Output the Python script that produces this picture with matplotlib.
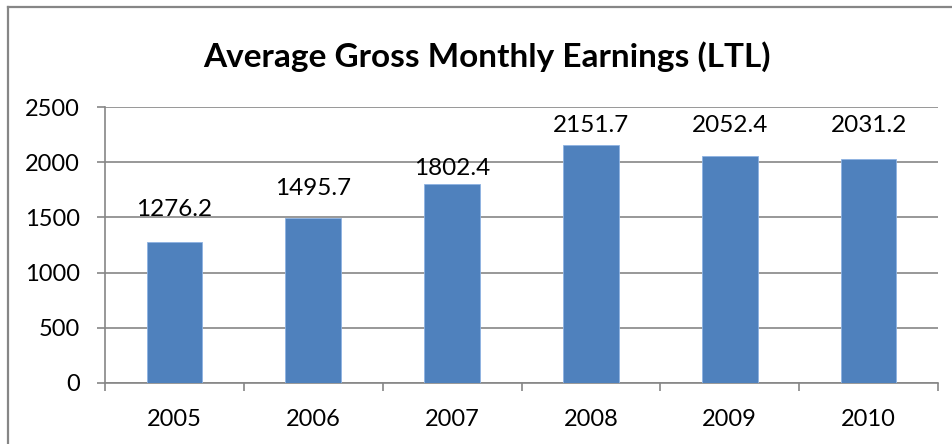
import matplotlib.pyplot as plt
from matplotlib.lines import Line2D

years = ['2005', '2006', '2007', '2008', '2009', '2010']
earnings = [1276.2, 1495.7, 1802.4, 2151.7, 2052.4, 2031.2]
# data label heights (labels were placed by hand in the original)
label_y = [1576, 1766, 1947, 2328, 2328, 2328]
yticks = [0, 500, 1000, 1500, 2000, 2500]

plt.rcParams['font.family'] = ['Lato', 'DejaVu Sans']

fig = plt.figure(figsize=(9.52, 4.44), dpi=100)
ax = fig.add_axes([0.1103, 0.1374, 0.875, 0.6216])

x = range(len(years))
ax.bar(x, earnings, width=0.4, color='#4F81BD', edgecolor='#8DB3E2', linewidth=0.6, zorder=3)

for i, v in enumerate(earnings):
    ax.text(i, label_y[i], '%.1f' % v, ha='center', va='center', fontsize=17.5, color='black')

ax.set_xlim(-0.5, 5.5)
ax.set_ylim(0, 2500)
ax.set_yticks(yticks)
ax.set_yticklabels([str(t) for t in yticks])
ax.set_xticks(list(x))
ax.set_xticklabels(years)
ax.set_xticks([i - 0.5 for i in range(len(years) + 1)], minor=True)

grey = '#868686'
ax.grid(axis='y', color=grey, linewidth=1.2, zorder=0)
ax.set_axisbelow(True)
for s in ['top', 'right']:
    ax.spines[s].set_visible(False)
for s in ['left', 'bottom']:
    ax.spines[s].set_color(grey)
    ax.spines[s].set_linewidth(1.2)

ax.tick_params(axis='y', direction='out', length=6, width=1.2, color=grey, pad=12, labelsize=17)
ax.tick_params(axis='x', which='major', length=0, pad=19, labelsize=17)
ax.tick_params(axis='x', which='minor', direction='out', length=6, width=1.2, color=grey)

fig.text(0.512, 0.872, 'Average Gross Monthly Earnings (LTL)', ha='center', va='center',
         fontsize=24, fontweight='bold')

# chart frame (only left and top edges visible in the crop)
fig.add_artist(Line2D([8 / 952, 8 / 952], [0, 1 - 7 / 444], transform=fig.transFigure,
                      color=grey, linewidth=1.6))
fig.add_artist(Line2D([8 / 952, 1], [1 - 7 / 444, 1 - 7 / 444], transform=fig.transFigure,
                      color=grey, linewidth=1.6))

fig.savefig('out.png', dpi=100)
